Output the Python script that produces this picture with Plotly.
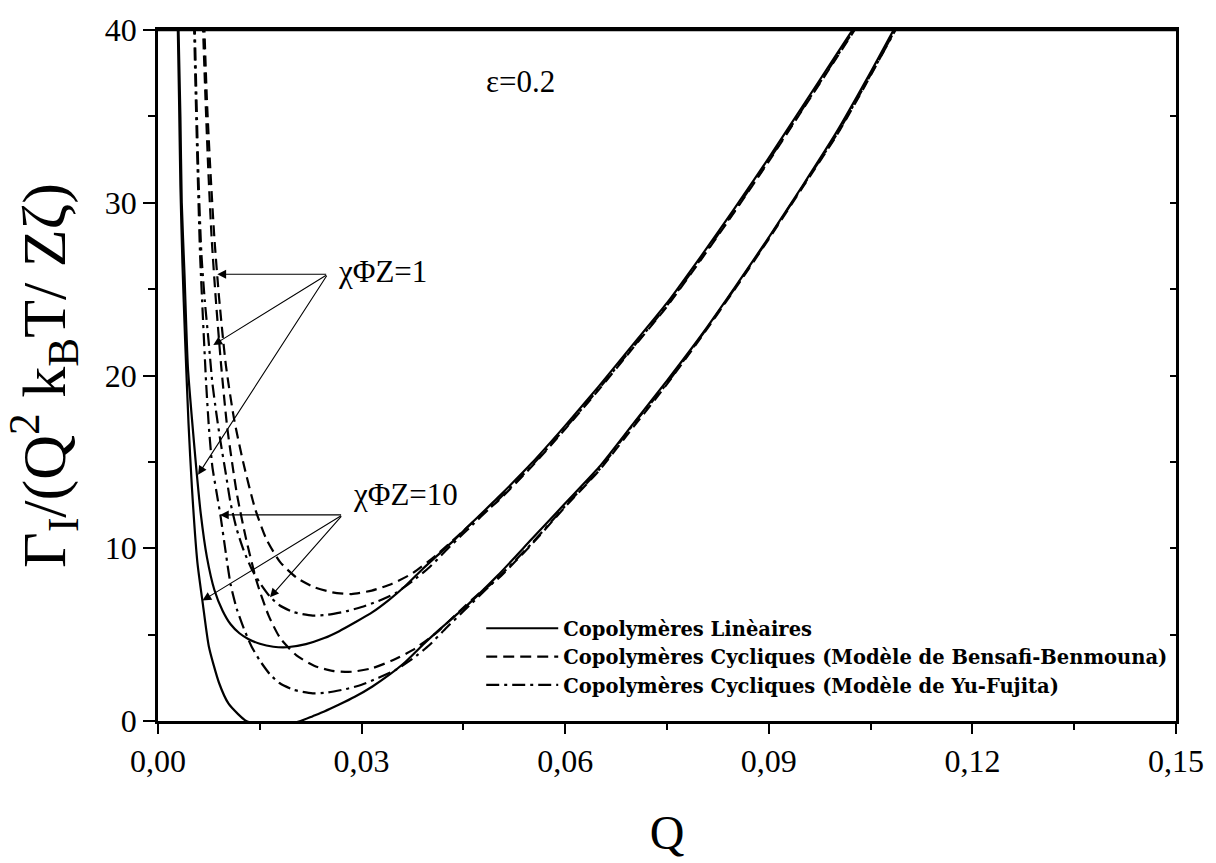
import plotly.graph_objects as go

# ---- data (Q, Gamma_I / (Q^2 kB T / Z zeta)) ----
# Copolymères linéaires
Q_lin_1 = [0.0030, 0.0033, 0.0035, 0.0039, 0.0044, 0.0050, 0.0056, 0.0063, 0.0072, 0.0083,
           0.0095, 0.0107, 0.0120, 0.0133, 0.0150, 0.0170, 0.0190, 0.0218, 0.0245, 0.0267,
           0.0290, 0.0316, 0.0340, 0.0364, 0.0390, 0.0415, 0.0437, 0.0450, 0.0500, 0.0550,
           0.0600, 0.0650, 0.0700, 0.0750, 0.0800, 0.0850, 0.0900, 0.0950, 0.1000, 0.1030]
G_lin_1 = [40.5, 35.0, 30.0, 25.9, 20.5, 17.5, 14.8, 12.0, 9.5, 7.6,
           6.4, 5.6, 5.08, 4.75, 4.47, 4.3, 4.27, 4.45, 4.8, 5.2,
           5.7, 6.3, 7.0, 7.8, 8.8, 9.7, 10.5, 11.0, 12.9, 14.9,
           17.1, 19.4, 21.8, 24.2, 26.9, 29.7, 32.6, 35.6, 38.6, 40.4]

Q_lin_10 = [0.0029, 0.0031, 0.0033, 0.0036, 0.0040, 0.0045, 0.0050, 0.0058, 0.0066, 0.0075,
            0.0090, 0.0104, 0.0118, 0.0130, 0.0150, 0.0170, 0.0195, 0.0210, 0.0228, 0.0245,
            0.0267, 0.0290, 0.0316, 0.0340, 0.0364, 0.0390, 0.0415, 0.0437, 0.0450, 0.0500,
            0.0550, 0.0600, 0.0650, 0.0700, 0.0750, 0.0800, 0.0850, 0.0900, 0.0950, 0.1000,
            0.1045, 0.1088]
G_lin_10 = [40.5, 36.0, 31.0, 26.5, 22.0, 17.2, 13.5, 9.2, 6.8, 4.3,
            2.2, 1.0, 0.4, 0.0, -0.2, -0.25, -0.15, 0.0, 0.28, 0.55,
            0.95, 1.4, 2.0, 2.65, 3.4, 4.4, 5.3, 6.06, 6.5, 8.4,
            10.5, 12.6, 14.7, 17.2, 19.7, 22.3, 25.1, 28.0, 31.0, 34.1,
            37.2, 40.3]

# Copolymères cycliques, modèle de Bensafi-Benmouna
Q_bb_1 = [0.0068, 0.0072, 0.0077, 0.0083, 0.0090, 0.0100, 0.0112, 0.0126, 0.0143, 0.0160,
          0.0180, 0.0204, 0.0230, 0.0257, 0.0285, 0.0315, 0.0345, 0.0375, 0.0410, 0.0440,
          0.0475, 0.0500, 0.0550, 0.0600, 0.0650, 0.0700, 0.0750, 0.0800, 0.0850, 0.0900,
          0.0950, 0.1000, 0.1033]
G_bb_1 = [40.5, 36.0, 32.0, 28.0, 24.5, 20.6, 17.5, 14.9, 12.3, 10.5,
          9.2, 8.3, 7.75, 7.45, 7.35, 7.55, 7.95, 8.55, 9.6, 10.65,
          11.9, 12.7, 14.7, 16.9, 19.2, 21.6, 24.0, 26.7, 29.5, 32.4,
          35.4, 38.4, 40.4]

Q_bb_10 = [0.0066, 0.0070, 0.0074, 0.0079, 0.0085, 0.0093, 0.0102, 0.0116, 0.0130, 0.0146,
           0.0163, 0.0180, 0.0204, 0.0230, 0.0257, 0.0285, 0.0315, 0.0345, 0.0375, 0.0410,
           0.0440, 0.0475, 0.0500, 0.0550, 0.0600, 0.0650, 0.0700, 0.0750, 0.0800, 0.0850,
           0.0900, 0.0950, 0.1000, 0.1045, 0.1090]
G_bb_10 = [40.5, 36.0, 32.0, 28.0, 24.5, 20.6, 17.0, 13.2, 10.5, 8.0,
           6.1, 4.8, 3.8, 3.2, 2.9, 2.85, 3.05, 3.5, 4.1, 5.1,
           6.2, 7.45, 8.2, 10.2, 12.4, 14.5, 17.0, 19.5, 22.2, 25.0,
           27.9, 30.9, 33.9, 37.0, 40.3]

# Copolymères cycliques, modèle de Yu-Fujita
Q_yf_1 = [0.0054, 0.0057, 0.0060, 0.0064, 0.0069, 0.0075, 0.0080, 0.0086, 0.0092, 0.0100,
          0.0107, 0.0116, 0.0126, 0.0138, 0.0150, 0.0165, 0.0179, 0.0200, 0.0228, 0.0250,
          0.0277, 0.0300, 0.0325, 0.0350, 0.0375, 0.0400, 0.0425, 0.0450, 0.0500, 0.0550,
          0.0600, 0.0650, 0.0700, 0.0750, 0.0800, 0.0850, 0.0900, 0.0950, 0.1000, 0.1032]
G_yf_1 = [40.5, 35.5, 31.0, 27.0, 24.3, 21.8, 19.6, 17.8, 16.2, 14.3,
          12.6, 11.1, 9.9, 8.8, 8.0, 7.2, 6.7, 6.3, 6.1, 6.15,
          6.35, 6.6, 6.95, 7.4, 8.1, 8.9, 9.9, 10.85, 12.75, 14.75,
          16.95, 19.25, 21.65, 24.05, 26.75, 29.55, 32.45, 35.45, 38.45, 40.4]

Q_yf_10 = [0.0053, 0.0056, 0.0059, 0.0062, 0.0066, 0.0071, 0.0075, 0.0080, 0.0086, 0.0092,
           0.0100, 0.0107, 0.0116, 0.0126, 0.0138, 0.0150, 0.0165, 0.0179, 0.0200, 0.0228,
           0.0250, 0.0277, 0.0300, 0.0325, 0.0350, 0.0375, 0.0400, 0.0425, 0.0450, 0.0500,
           0.0550, 0.0600, 0.0650, 0.0700, 0.0750, 0.0800, 0.0850, 0.0900, 0.0950, 0.1000,
           0.1045, 0.1091]
G_yf_10 = [40.5, 35.5, 31.0, 27.0, 23.5, 19.5, 17.0, 14.75, 13.3, 11.9,
           9.7, 7.9, 6.5, 5.4, 4.3, 3.5, 2.7, 2.2, 1.8, 1.6,
           1.65, 1.85, 2.1, 2.5, 2.95, 3.6, 4.4, 5.4, 6.35, 8.25,
           10.25, 12.45, 14.55, 17.15, 19.55, 22.25, 25.05, 27.95, 30.95, 33.95,
           37.05, 40.3]

legend_names = ["Copolymères Linèaires",
                "Copolymères Cycliques (Modèle de Bensafi-Benmouna)",
                "Copolymères Cycliques (Modèle de Yu-Fujita)"]

x_tick_vals = [0.0, 0.03, 0.06, 0.09, 0.12, 0.15]
x_tick_text = ["0,00", "0,03", "0,06", "0,09", "0,12", "0,15"]
x_minor_vals = [0.015, 0.045, 0.075, 0.105, 0.135]

# annotation anchor points (data coordinates): label, tail, tips
label_1 = ("χΦZ=1", 0.0262, 26.0)
tail_1 = (0.0250, 25.86)
tips_1 = [(0.00874, 25.86), (0.00815, 21.76), (0.0059, 14.25)]
label_10 = ("χΦZ=10", 0.0285, 13.1)
tail_10 = (0.0272, 11.93)
tips_10 = [(0.00913, 11.93), (0.00655, 6.97), (0.0165, 7.16)]
label_eps = ("ε=0.2", 0.0481, 37.0)

SERIF = "Liberation Serif, Times New Roman, Times, serif"

# ---- figure ----
fig = go.Figure()
SM = 0.6
DASH = "11px,6px"
DASHDOT = "13px,5px,3px,5px"
series = [
    (Q_lin_1, G_lin_1, "solid", 0, True, "lin"),
    (Q_lin_10, G_lin_10, "solid", 0, False, "lin"),
    (Q_bb_1, G_bb_1, DASH, 1, True, "bb"),
    (Q_bb_10, G_bb_10, DASH, 1, False, "bb"),
    (Q_yf_1, G_yf_1, DASHDOT, 2, True, "yf"),
    (Q_yf_10, G_yf_10, DASHDOT, 2, False, "yf"),
]
for q, g, dash, li, show, grp in series:
    fig.add_trace(go.Scatter(
        x=q, y=g, mode="lines", name=legend_names[li], legendgroup=grp,
        showlegend=show,
        line=dict(color="black", width=2.2, dash=dash, shape="spline", smoothing=SM),
        hoverinfo="skip"))

# empty trace carrying the right-hand axis with inward ticks
fig.add_trace(go.Scatter(x=[None], y=[None], yaxis="y2", showlegend=False, hoverinfo="skip"))

ann = []
for lab in (label_1, label_10, label_eps):
    ann.append(dict(x=lab[1], y=lab[2], xref="x", yref="y", text=lab[0], showarrow=False,
                    xanchor="left", yanchor="middle",
                    font=dict(family=SERIF, size=31, color="black")))
for tail, tips in ((tail_1, tips_1), (tail_10, tips_10)):
    for tx, ty in tips:
        ann.append(dict(x=tx, y=ty, xref="x", yref="y", ax=tail[0], ay=tail[1],
                        axref="x", ayref="y", text="", showarrow=True,
                        arrowhead=2, arrowsize=1.6, arrowwidth=1.1, arrowcolor="black"))

fig.update_layout(
    width=1216, height=863,
    margin=dict(l=158, r=28, t=23, b=127),
    paper_bgcolor="white", plot_bgcolor="white",
    font=dict(family=SERIF, size=32, color="black"),
    showlegend=True,
    legend=dict(x=0.3175, y=0.162, xanchor="left", yanchor="top",
                bgcolor="rgba(0,0,0,0)", borderwidth=0,
                traceorder="grouped", tracegroupgap=0, itemwidth=72,
                font=dict(family="DejaVu Serif", size=19.5, color="black", weight="bold")),
    xaxis=dict(range=[0, 0.15], tickmode="array", tickvals=x_tick_vals, ticktext=x_tick_text,
               ticks="outside", ticklen=10, tickwidth=2, tickcolor="black",
               tickfont=dict(family=SERIF, size=32),
               minor=dict(tickmode="array", tickvals=x_minor_vals, ticks="outside",
                          ticklen=6, tickwidth=2, tickcolor="black"),
               showline=True, linewidth=2.5, linecolor="black", mirror=True,
               showgrid=False, zeroline=False,
               title=dict(text="Q", font=dict(family=SERIF, size=48), standoff=38)),
    yaxis=dict(range=[0, 40], dtick=10, tick0=0,
               ticks="outside", ticklen=12, tickwidth=2, tickcolor="black",
               tickfont=dict(family=SERIF, size=32),
               minor=dict(dtick=5, ticks="outside", ticklen=7, tickwidth=2, tickcolor="black"),
               showline=True, linewidth=2.5, linecolor="black", mirror=True,
               showgrid=False, zeroline=False,
               title=dict(text="Γ<sub>I</sub>/(Q<sup>2</sup> k<sub>B</sub>T/ Zζ)",
                          font=dict(family=SERIF, size=62), standoff=44)),
    yaxis2=dict(range=[0, 40], dtick=5, overlaying="y", side="right",
                ticks="inside", ticklen=6, tickwidth=1.5, tickcolor="black",
                showticklabels=False, showline=False, showgrid=False, zeroline=False),
    shapes=[dict(type="line", xref="x domain", yref="y domain", x0=0, x1=1, y0=1, y1=1,
                 line=dict(color="black", width=2.5), layer="above")],
    annotations=ann,
)

fig.write_html("out.html")
